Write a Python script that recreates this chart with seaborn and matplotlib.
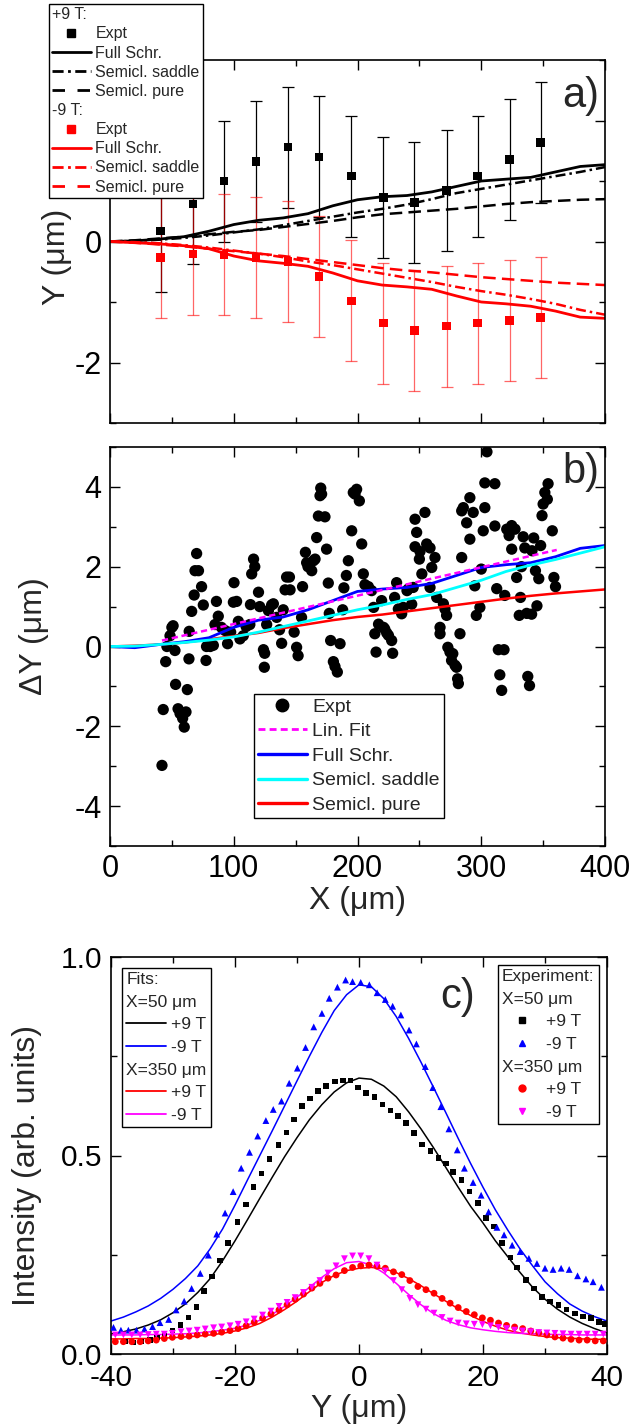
# ====================================================================================================

# imports
import numpy as np
import matplotlib
matplotlib.use('Agg')
import matplotlib.pyplot as plt
import seaborn as sns
from matplotlib.lines import Line2D
from matplotlib.ticker import MultipleLocator, FuncFormatter

# ====================================================================================================
# panel a) : deflection Y vs X for +9 T and -9 T

X_EXP = [41, 67, 92, 118, 144, 169, 195, 221, 246, 272, 297, 323, 348]
Y_P9 = [0.17, 0.62, 1.00, 1.32, 1.56, 1.40, 1.08, 0.73, 0.64, 0.84, 1.08, 1.36, 1.64]
Y_M9 = [-0.26, -0.21, -0.22, -0.27, -0.33, -0.58, -0.98, -1.35, -1.47, -1.40, -1.35, -1.31, -1.26]
ERR_P9 = [1.0, 1.0, 1.0, 1.0, 1.0, 1.0, 1.0, 1.0, 1.0, 1.0, 1.0, 1.0, 1.0]
ERR_M9 = [1.0, 1.0, 1.0, 1.0, 1.0, 1.0, 1.0, 1.0, 1.0, 1.0, 1.0, 1.0, 1.0]

X_TH = [0, 20, 40, 60, 80, 100, 120, 140, 160, 180, 200, 220, 240, 260, 280, 300, 320, 340, 360, 380, 400]
P9_FULL = [0, 0.01, 0.04, 0.08, 0.17, 0.28, 0.35, 0.39, 0.46, 0.59, 0.69, 0.74, 0.76, 0.82, 0.91, 1.00, 1.03, 1.06, 1.15, 1.24, 1.27]
P9_SADDLE = [0, 0.01, 0.03, 0.06, 0.10, 0.15, 0.20, 0.27, 0.34, 0.41, 0.48, 0.54, 0.61, 0.70, 0.80, 0.87, 0.94, 1.01, 1.08, 1.15, 1.23]
P9_PURE = [0, 0.02, 0.05, 0.08, 0.12, 0.16, 0.19, 0.24, 0.29, 0.34, 0.40, 0.45, 0.48, 0.51, 0.54, 0.58, 0.62, 0.65, 0.67, 0.69, 0.70]
M9_FULL = [0, -0.02, -0.04, -0.07, -0.12, -0.24, -0.32, -0.36, -0.41, -0.52, -0.65, -0.72, -0.75, -0.79, -0.90, -1.00, -1.03, -1.07, -1.15, -1.25, -1.27]
M9_SADDLE = [0, -0.01, -0.03, -0.06, -0.10, -0.15, -0.20, -0.26, -0.33, -0.39, -0.46, -0.53, -0.60, -0.67, -0.75, -0.82, -0.88, -0.95, -1.03, -1.13, -1.21]
M9_PURE = [0, -0.02, -0.05, -0.08, -0.12, -0.16, -0.20, -0.24, -0.29, -0.34, -0.39, -0.44, -0.48, -0.51, -0.55, -0.59, -0.62, -0.65, -0.68, -0.70, -0.72]

# ====================================================================================================
# panel b) : difference dY

DX = [42, 43, 45, 46, 48.5, 50, 51, 52.5, 53, 55, 56.6, 58.7, 60, 61.4, 62.5, 63.8, 64, 66, 68, 68.7,
      71.5, 70, 74, 75.4, 77.6, 78, 81, 83.5, 84.8, 86, 87.5, 90, 93, 95, 97.5, 99.7, 102.3, 100.2, 103.7, 105,
      107.7, 110, 113, 113.5, 114.5, 116, 117, 120, 121, 124, 125, 124.7, 126.6, 128, 130.6, 132, 134.7, 137, 138.7, 140,
      141.5, 145.5, 142.7, 145, 148.8, 150.8, 152, 154.8, 155.6, 157.9, 158.9, 160, 163, 164.4, 165.7, 167, 168.4, 173.7, 169.7, 170.3,
      171, 175, 176.4, 177.2, 178.3, 180.5, 181.8, 183.7, 185.9, 188, 189, 191, 192.6, 195.3, 196.6, 199.3, 198, 201.5, 203.4, 204.7,
      206, 208.8, 211.4, 213, 214, 215, 217, 221, 222, 219.5, 223.6, 225, 227.6, 228.4, 230, 231.6, 233, 235.7, 237, 240,
      241, 245, 243.8, 246.5, 254.5, 247.8, 246.5, 250.5, 250, 252, 255.9, 258.6, 262.6, 260, 258.6, 264, 269.4, 270.7, 272, 266.7,
      266.7, 273, 274.7, 277, 276, 278.8, 280, 280.9, 281.5, 282.8, 284.2, 284.2, 285.5, 288.2, 290.8, 290.8, 293.5, 294.8, 296, 298.9,
      300, 301.6, 302.9, 302.9, 311, 304.6, 311, 312.5, 313.8, 318.4, 315, 316.5, 319, 320.6, 324.6, 327.3, 322.5, 324.6, 328.6, 330.7,
      336.7, 340.7, 331.7, 333.9, 335.2, 332.5, 337.6, 339, 341, 342.4, 343.8, 346.5, 345, 348, 349.1, 350, 351.4, 354, 353.4, 357.4,
      358.7, 360]
DY = [-2.98, -1.58, -0.38, 0.0, 0.27, 0.48, 0.52, -0.1, -0.95, -1.56, -1.68, -1.8, -2.02, -1.64, -1.08, -0.31, 0.38, 0.88, 1.29, 1.9,
      1.9, 2.33, 1.5, 1.04, -0.35, 0.0, 0.0, 0.03, 0.55, 1.13, 0.76, 0.48, 0.4, 0.07, 0.36, 1.11, 1.13, 1.6, 0.63, 0.19,
      0.27, 0.5, 0.55, 1.05, 1.82, 2.19, 2.0, 1.36, 1.0, -0.08, -0.17, -0.52, 0.55, 0.9, 1.04, 1.07, 0.73, 0.42, 0.08, 0.92,
      1.42, 1.42, 1.74, 1.74, 0.36, -0.02, -0.23, 0.73, 1.5, 2.36, 2.1, 2.0, 1.9, 2.15, 2.19, 2.73, 3.27, 3.25, 3.78, 3.97,
      3.82, 2.44, 1.59, 0.83, 0.15, -0.38, -0.5, -0.64, 0.07, 0.92, 1.47, 1.78, 2.15, 2.9, 3.86, 3.94, 3.82, 3.65, 2.57, 1.82,
      1.55, 1.5, 1.4, 0.98, 0.32, -0.14, 0.56, 0.48, 0.44, 1.15, 0.34, 0.28, 0.15, -0.17, 1.23, 1.6, 0.94, 0.82, 0.98, 1.4,
      1.44, 1.48, 1.06, 3.19, 3.36, 2.86, 2.5, 2.38, 2.19, 1.82, 2.57, 2.47, 2.23, 1.98, 1.48, 1.23, 1.07, 0.94, 0.78, 0.48,
      0.32, -0.02, -0.14, -0.18, -0.35, -0.47, -0.52, -0.81, -0.93, 0.32, 2.23, 3.4, 3.48, 3.1, 3.73, 2.69, 3.36, 1.52, 0.78, 0.98,
      1.94, 2.9, 3.48, 4.1, 4.08, 4.88, 3.02, 1.45, -0.08, -0.08, -0.71, -1.1, 1.28, 2.94, 3.03, 2.94, 2.78, 2.44, 1.73, 0.78,
      0.83, 0.81, 1.23, 2.75, 2.47, 2.0, -0.75, -0.98, 2.4, 2.72, 1.9, 1.7, 1.02, 2.53, 3.28, 3.57, 3.86, 4.08, 3.69, 2.9,
      1.73, 1.5]

LIN_X = [42, 361]
LIN_Y = [0.15, 2.42]
D_FULL = [0, -0.03, 0.05, 0.12, 0.22, 0.48, 0.66, 0.74, 0.92, 1.15, 1.38, 1.44, 1.48, 1.58, 1.78, 1.98, 2.05, 2.10, 2.25, 2.46, 2.53]
D_SADDLE = [0, 0.01, 0.05, 0.10, 0.16, 0.24, 0.36, 0.50, 0.64, 0.78, 0.92, 1.04, 1.18, 1.30, 1.48, 1.66, 1.88, 2.04, 2.18, 2.34, 2.50]
D_PURE = [0, 0.02, 0.05, 0.10, 0.18, 0.26, 0.34, 0.46, 0.56, 0.66, 0.74, 0.80, 0.88, 0.96, 1.04, 1.12, 1.20, 1.27, 1.33, 1.38, 1.43]

# ====================================================================================================
# panel c) : intensity profiles

SQ_Y = [-37.7, -36.4, -35.05, -33.7, -32.6, -31.4, -30.1, -28.8, -27.5, -26.2, -25.0, -23.7, -22.4, -21.1, -19.6, -18.2, -17.0, -15.7, -14.4, -13.0,
        -11.7, -10.5, -9.2, -7.9, -6.6, -5.3, -3.9, -2.6, -1.4, -0.2, 1.1, 2.5, 3.8, 5.1, 6.3, 7.6, 8.9, 10.2, 11.5, 12.8,
        14.0, 15.2, 16.5, 17.8, 19.15, 20.5, 21.8, 23.1, 24.4, 25.5, 26.9, 28.2, 29.5, 30.8, 32.15, 33.5, 34.8, 36.1, 37.4, 38.7, 39.7]
SQ_I = [0.031, 0.029, 0.031, 0.035, 0.042, 0.045, 0.059, 0.073, 0.092, 0.119, 0.159, 0.195, 0.235, 0.279, 0.333, 0.377, 0.421, 0.455, 0.491, 0.526,
        0.558, 0.591, 0.625, 0.644, 0.663, 0.675, 0.686, 0.689, 0.689, 0.671, 0.658, 0.648, 0.629, 0.613, 0.599, 0.582, 0.556, 0.528, 0.512, 0.494,
        0.480, 0.459, 0.438, 0.409, 0.381, 0.342, 0.321, 0.280, 0.243, 0.218, 0.186, 0.165, 0.143, 0.132, 0.123, 0.112, 0.102, 0.094, 0.090, 0.081, 0.075]

TRI_Y = [-39.6, -38.4, -37.2, -35.9, -34.6, -33.3, -32.1, -30.7, -29.5, -28.2, -27.0, -25.6, -24.3, -22.95, -21.6, -20.3, -19.0, -17.66, -16.34, -15.02,
         -13.83, -12.5, -11.26, -9.94, -8.62, -7.3, -5.98, -4.8, -3.48, -2.16, -1.04, 0.28, 1.67, 2.92, 4.24, 5.43, 6.75, 8.07, 9.26, 10.7,
         11.9, 13.2, 14.5, 15.85, 17.0, 18.4, 19.7, 20.9, 22.25, 23.4, 24.7, 26.0, 27.4, 28.7, 30.0, 31.3, 32.6, 33.9, 35.25, 36.6, 37.75, 39.1]
TRI_I = [0.067, 0.060, 0.060, 0.060, 0.063, 0.069, 0.079, 0.087, 0.111, 0.133, 0.165, 0.203, 0.249, 0.302, 0.355, 0.409, 0.468, 0.508, 0.549, 0.588,
         0.616, 0.637, 0.682, 0.720, 0.772, 0.824, 0.858, 0.896, 0.924, 0.942, 0.938, 0.936, 0.930, 0.910, 0.893, 0.876, 0.854, 0.816, 0.781, 0.724,
         0.671, 0.623, 0.567, 0.514, 0.468, 0.432, 0.400, 0.358, 0.319, 0.300, 0.274, 0.258, 0.241, 0.228, 0.216, 0.213, 0.216, 0.213, 0.197, 0.189, 0.182, 0.168]

LATE_Y = [-39.3, -38.0, -36.65, -35.3, -34.0, -32.7, -31.4, -30.1, -28.7, -27.4, -26.1, -24.8, -23.45, -22.15, -20.8, -19.5, -18.2, -16.9, -15.55, -14.2,
          -12.9, -11.6, -10.3, -8.95, -7.6, -6.3, -5.0, -3.7, -2.35, -1.04, 0.28, 1.6, 2.9, 4.24, 5.56, 6.9, 8.2, 9.5, 10.8, 12.1,
          13.4, 14.7, 16.0, 17.3, 18.6, 19.9, 21.2, 22.5, 23.8, 25.1, 26.4, 27.7, 29.0, 30.3, 31.6, 32.9, 34.2, 35.5, 36.8, 38.1, 39.4]
CIRC_I = [0.031, 0.031, 0.031, 0.031, 0.033, 0.035, 0.039, 0.042, 0.044, 0.045, 0.048, 0.050, 0.052, 0.055, 0.059, 0.064, 0.071, 0.080, 0.090, 0.101,
          0.111, 0.124, 0.138, 0.151, 0.166, 0.178, 0.191, 0.199, 0.210, 0.218, 0.222, 0.224, 0.221, 0.216, 0.207, 0.200, 0.185, 0.170, 0.162, 0.153,
          0.140, 0.128, 0.117, 0.107, 0.099, 0.091, 0.085, 0.078, 0.072, 0.068, 0.064, 0.058, 0.053, 0.048, 0.043, 0.040, 0.037, 0.035, 0.035, 0.033, 0.033]
DTRI_I = [0.048, 0.048, 0.048, 0.048, 0.049, 0.050, 0.050, 0.052, 0.056, 0.058, 0.060, 0.063, 0.066, 0.068, 0.071, 0.075, 0.081, 0.088, 0.098, 0.108,
          0.120, 0.130, 0.142, 0.155, 0.168, 0.185, 0.204, 0.222, 0.240, 0.247, 0.247, 0.240, 0.224, 0.209, 0.185, 0.162, 0.140, 0.124, 0.113, 0.103,
          0.092, 0.083, 0.078, 0.076, 0.075, 0.074, 0.071, 0.067, 0.064, 0.060, 0.058, 0.056, 0.054, 0.053, 0.052, 0.051, 0.050, 0.050, 0.050, 0.050, 0.050]

FIT_Y = [-40, -38, -36, -34, -32, -30, -28, -26, -24, -22, -20, -18, -16, -14, -12, -10, -8, -6, -4, -2, 0,
         2, 4, 6, 8, 10, 12, 14, 16, 18, 20, 22, 24, 26, 28, 30, 32, 34, 36, 38, 40]
FIT_50_P9 = [0.050, 0.056, 0.063, 0.073, 0.086, 0.104, 0.126, 0.155, 0.190, 0.235, 0.285, 0.338, 0.392, 0.445, 0.497, 0.545, 0.590, 0.628, 0.660, 0.683, 0.695,
             0.692, 0.675, 0.648, 0.610, 0.567, 0.520, 0.470, 0.420, 0.372, 0.330, 0.285, 0.245, 0.205, 0.168, 0.138, 0.113, 0.093, 0.077, 0.064, 0.053]
FIT_50_M9 = [0.083, 0.093, 0.106, 0.121, 0.140, 0.163, 0.190, 0.222, 0.265, 0.315, 0.375, 0.438, 0.500, 0.562, 0.625, 0.688, 0.750, 0.810, 0.865, 0.905, 0.930,
             0.925, 0.895, 0.850, 0.795, 0.735, 0.672, 0.608, 0.543, 0.480, 0.420, 0.363, 0.312, 0.264, 0.222, 0.182, 0.152, 0.126, 0.108, 0.094, 0.083]
FIT_350_P9 = [0.038, 0.038, 0.039, 0.039, 0.040, 0.041, 0.043, 0.045, 0.048, 0.052, 0.058, 0.066, 0.077, 0.093, 0.112, 0.133, 0.157, 0.180, 0.198, 0.210, 0.216,
              0.218, 0.215, 0.205, 0.190, 0.172, 0.152, 0.133, 0.114, 0.097, 0.082, 0.070, 0.060, 0.053, 0.048, 0.044, 0.041, 0.040, 0.038, 0.037, 0.037]
FIT_350_M9 = [0.048, 0.048, 0.048, 0.049, 0.049, 0.050, 0.051, 0.053, 0.056, 0.060, 0.065, 0.073, 0.085, 0.100, 0.120, 0.143, 0.168, 0.193, 0.215, 0.230, 0.233,
              0.224, 0.204, 0.178, 0.150, 0.124, 0.102, 0.085, 0.074, 0.066, 0.061, 0.057, 0.054, 0.052, 0.051, 0.050, 0.049, 0.049, 0.048, 0.048, 0.048]

# ====================================================================================================

W, H = 634, 1427
DASHDOT = (0, (4, 1.6, 1, 1.6))
DASHED = (0, (5, 2.5))


def style_axes(ax, xmaj, xmin, ymaj, ymin, size=22, xpad=6):
    ax.xaxis.set_major_locator(MultipleLocator(xmaj))
    ax.xaxis.set_minor_locator(MultipleLocator(xmin))
    ax.yaxis.set_major_locator(MultipleLocator(ymaj))
    ax.yaxis.set_minor_locator(MultipleLocator(ymin))
    ax.tick_params(which='both', direction='in', top=True, right=True, width=1, color='black')
    ax.tick_params(which='major', length=7, labelsize=size, pad=6, labelcolor='black')
    ax.tick_params(axis='x', which='major', pad=xpad)
    ax.tick_params(which='minor', length=4)
    for s in ax.spines.values():
        s.set_linewidth(1.2)
        s.set_color('black')


def header_legend(ax, handles, labels, headers, anchor, loc, **kw):
    leg = ax.legend(handles, labels, loc=loc, bbox_to_anchor=(anchor[0] / W, 1 - anchor[1] / H),
                    bbox_transform=ax.figure.transFigure, borderaxespad=0, fancybox=False,
                    framealpha=1, **kw)
    leg.get_frame().set_edgecolor('black')
    leg.get_frame().set_linewidth(1)
    # header rows: drop the handle box so the text starts at the left edge
    for col in leg._legend_handle_box.get_children():
        for row in col.get_children():
            kids = row.get_children()
            if len(kids) == 2 and kids[1].get_text() in headers:
                row._children = [kids[1]]
    return leg


def blank():
    return Line2D([], [], linestyle='none')


def line(ax, x, y, color, lw, ls='-'):
    sns.lineplot(x=x, y=y, ax=ax, color=color, lw=lw, linestyle=ls, errorbar=None, estimator=None, sort=False)

# ====================================================================================================

def panel_a(ax):
    ax.errorbar(X_EXP, Y_P9, yerr=ERR_P9, fmt='none', ecolor='black', elinewidth=0.9, capsize=4, capthick=0.9, zorder=2)
    ax.errorbar(X_EXP, Y_M9, yerr=ERR_M9, fmt='none', ecolor='red', elinewidth=0.9, capsize=4, capthick=0.9, alpha=0.6, zorder=2)

    line(ax, X_TH, P9_PURE, 'black', 1.8, DASHED)
    line(ax, X_TH, P9_SADDLE, 'black', 1.8, DASHDOT)
    line(ax, X_TH, P9_FULL, 'black', 2.0)
    line(ax, X_TH, M9_PURE, 'red', 1.8, DASHED)
    line(ax, X_TH, M9_SADDLE, 'red', 1.8, DASHDOT)
    line(ax, X_TH, M9_FULL, 'red', 2.0)

    sns.scatterplot(x=X_EXP, y=Y_P9, ax=ax, marker='s', color='black', s=38, edgecolor='none', zorder=4)
    sns.scatterplot(x=X_EXP, y=Y_M9, ax=ax, marker='s', color='red', s=38, edgecolor='none', zorder=4)

    ax.set_xlim(0, 400)
    ax.set_ylim(-3, 3)
    style_axes(ax, 100, 50, 2, 1)
    # the "2" label sits under the legend box in the original, so leave it empty
    ax.yaxis.set_major_formatter(FuncFormatter(lambda v, p: '' if v > 1 else f'{v:g}'))
    ax.tick_params(labelbottom=False)
    ax.set_ylabel('Y (μm)', fontsize=23)
    ax.yaxis.set_label_coords(-0.077, 0.457)
    ax.text(0.951, 0.90, 'a)', transform=ax.transAxes, fontsize=30, ha='center', va='center')

    handles = [blank(),
               Line2D([], [], ls='none', marker='s', color='black', ms=6),
               Line2D([], [], color='black', lw=2),
               Line2D([], [], color='black', lw=2, ls=DASHDOT),
               Line2D([], [], color='black', lw=2, ls=(0, (4.5, 4.5))),
               blank(),
               Line2D([], [], ls='none', marker='s', color='red', ms=6),
               Line2D([], [], color='red', lw=2),
               Line2D([], [], color='red', lw=2, ls=DASHDOT),
               Line2D([], [], color='red', lw=2, ls=(0, (4.5, 4.5)))]
    labels = ['+9 T:', 'Expt', 'Full Schr.', 'Semicl. saddle', 'Semicl. pure',
              '-9 T:', 'Expt', 'Full Schr.', 'Semicl. saddle', 'Semicl. pure']
    header_legend(ax, handles, labels, ['+9 T:', '-9 T:'], (49, 4), 'upper left',
                  fontsize=11.5, handlelength=2.4, handletextpad=0.3, labelspacing=0.26,
                  borderpad=0.2)


def panel_b(ax):
    sns.scatterplot(x=DX, y=DY, ax=ax, color='black', s=66, edgecolor='none', zorder=2)
    line(ax, X_TH, D_PURE, 'red', 1.8)
    line(ax, X_TH, D_FULL, 'blue', 2.0)
    line(ax, X_TH, D_SADDLE, 'cyan', 2.0)
    line(ax, LIN_X, LIN_Y, 'magenta', 1.8, (0, (2.5, 1.5)))

    ax.set_xlim(0, 400)
    ax.set_ylim(-5, 5)
    style_axes(ax, 100, 50, 2, 1)
    ax.set_ylabel('ΔY (μm)', fontsize=23)
    ax.yaxis.set_label_coords(-0.123, 0.526)
    ax.set_xlabel('X (μm)', fontsize=23)
    ax.xaxis.set_label_coords(0.499, -0.10)
    ax.text(0.951, 0.937, 'b)', transform=ax.transAxes, fontsize=30, ha='center', va='center')

    handles = [Line2D([], [], ls='none', marker='o', color='black', ms=9),
               Line2D([], [], color='magenta', lw=2, ls=(0, (2.5, 1.5))),
               Line2D([], [], color='blue', lw=2.4),
               Line2D([], [], color='cyan', lw=2.4),
               Line2D([], [], color='red', lw=2.4)]
    labels = ['Expt', 'Lin. Fit', 'Full Schr.', 'Semicl. saddle', 'Semicl. pure']
    header_legend(ax, handles, labels, [], (254, 694), 'upper left',
                  fontsize=14, handlelength=2.5, handletextpad=0.3, labelspacing=0.36,
                  borderpad=0.2)


def panel_c(ax):
    line(ax, FIT_Y, FIT_50_P9, 'black', 1.1)
    line(ax, FIT_Y, FIT_50_M9, 'blue', 1.1)
    line(ax, FIT_Y, FIT_350_P9, 'red', 1.1)
    line(ax, FIT_Y, FIT_350_M9, 'magenta', 1.1)
    sns.scatterplot(x=SQ_Y, y=SQ_I, ax=ax, marker='s', color='black', s=16, edgecolor='none', zorder=3)
    sns.scatterplot(x=TRI_Y, y=TRI_I, ax=ax, marker='^', color='blue', s=24, edgecolor='none', zorder=3)
    sns.scatterplot(x=LATE_Y, y=CIRC_I, ax=ax, marker='o', color='red', s=24, edgecolor='none', zorder=3)
    sns.scatterplot(x=LATE_Y, y=DTRI_I, ax=ax, marker='v', color='magenta', s=24, edgecolor='none', zorder=3)

    ax.set_xlim(-40, 40)
    ax.set_ylim(0, 1.0)
    style_axes(ax, 20, 10, 0.5, 0.25, size=21.5, xpad=7)
    ax.set_ylabel('Intensity (arb. units)', fontsize=23)
    ax.yaxis.set_label_coords(-0.139, 0.476)
    ax.set_xlabel('Y (μm)', fontsize=23)
    ax.xaxis.set_label_coords(0.5, -0.1)
    ax.text(0.698, 0.899, 'c)', transform=ax.transAxes, fontsize=30, ha='center', va='center')

    fit_handles = [blank(), blank(),
                   Line2D([], [], color='black', lw=1.3),
                   Line2D([], [], color='blue', lw=1.3),
                   blank(),
                   Line2D([], [], color='red', lw=1.3),
                   Line2D([], [], color='magenta', lw=1.3)]
    fit_labels = ['Fits:', 'X=50 μm', '+9 T', '-9 T', 'X=350 μm', '+9 T', '-9 T']
    fits = header_legend(ax, fit_handles, fit_labels, ['Fits:', 'X=50 μm', 'X=350 μm'], (122, 968), 'upper left',
                         fontsize=12.5, handlelength=2.3, handletextpad=0.25, labelspacing=0.43,
                         borderpad=0.25)
    ax.add_artist(fits)

    exp_handles = [blank(), blank(),
                   Line2D([], [], ls='none', marker='s', color='black', ms=4.5),
                   Line2D([], [], ls='none', marker='^', color='blue', ms=5),
                   blank(),
                   Line2D([], [], ls='none', marker='o', color='red', ms=5),
                   Line2D([], [], ls='none', marker='v', color='magenta', ms=5)]
    exp_labels = ['Experiment:', 'X=50 μm', '+9 T', '-9 T', 'X=350 μm', '+9 T', '-9 T']
    header_legend(ax, exp_handles, exp_labels, ['Experiment:', 'X=50 μm', 'X=350 μm'], (599, 965), 'upper right',
                  fontsize=12.5, handlelength=2.3, handletextpad=0.25, labelspacing=0.43,
                  borderpad=0.25)

# ====================================================================================================

def main():
    sns.set_style('ticks')
    plt.rcParams['font.family'] = ['Liberation Sans', 'DejaVu Sans']
    plt.rcParams['axes.unicode_minus'] = False

    fig = plt.figure(figsize=(W / 100, H / 100), dpi=100)
    ax_a = fig.add_axes([110 / W, 1 - 423 / H, 495 / W, 363 / H])
    ax_b = fig.add_axes([110 / W, 1 - 846 / H, 495 / W, 399 / H])
    ax_c = fig.add_axes([111 / W, 1 - 1354 / H, 496 / W, 397 / H])

    panel_a(ax_a)
    panel_b(ax_b)
    panel_c(ax_c)

    fig.savefig('out.png', dpi=100)

# ====================================================================================================

if __name__ == '__main__':
    main()
